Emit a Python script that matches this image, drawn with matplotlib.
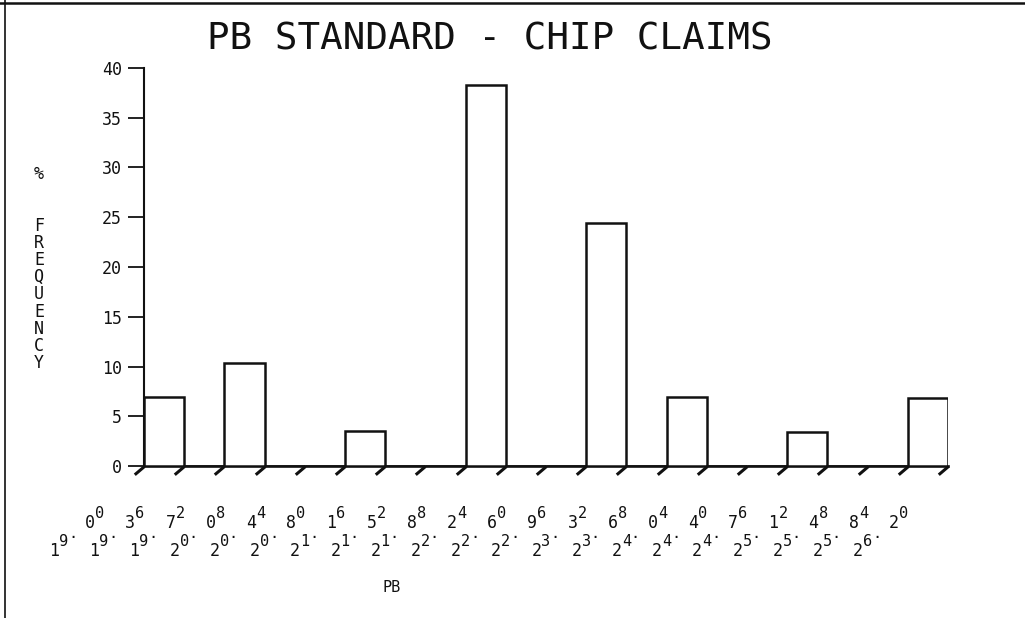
import matplotlib
matplotlib.use('Agg')
import matplotlib.pyplot as plt
import matplotlib.transforms as mtransforms
from matplotlib.path import Path
from matplotlib.lines import Line2D

# bin edges along PB axis and their printed labels
edges = [19.00, 19.36, 19.72, 20.08, 20.44, 20.80, 21.16, 21.52, 21.88, 22.24,
         22.60, 22.96, 23.32, 23.68, 24.04, 24.40, 24.76, 25.12, 25.48, 25.84, 26.20]
tick_labels = ["19.00", "19.36", "19.72", "20.08", "20.44", "20.80", "21.16",
               "21.52", "21.88", "22.24", "22.60", "22.96", "23.32", "23.68",
               "24.04", "24.40", "24.76", "25.12", "25.48", "25.84", "26.20"]
# % frequency in each bin (20 bins)
pct = [6.9, 0, 10.4, 0, 0, 3.5, 0, 0, 38.3, 0,
       0, 24.4, 0, 6.9, 0, 0, 3.4, 0, 0, 6.8]
y_ticks = [0, 5, 10, 15, 20, 25, 30, 35, 40]

title = "PB STANDARD - CHIP CLAIMS"
ylabel = "%  FREQUENCY"
xlabel = "PB"

MONO = "DejaVu Sans Mono"
INK = "#111111"
W, H = 1025, 618

# plotter-style placement of the 5 label characters (pixel offsets from tick, size)
char_dx = [-95, -85, -76, -59, -49]
char_dy = [-90, -80, -72, -62, -52]
char_fs = [12, 11, 11, 12, 11]

fig = plt.figure(figsize=(W / 100, H / 100), dpi=100)
fig.patch.set_facecolor("white")
ax = fig.add_axes([144 / W, (H - 466) / H, (948 - 144) / W, (466 - 68) / H])

widths = [edges[i + 1] - edges[i] for i in range(len(pct))]
ax.bar(edges[:-1], pct, width=widths, align="edge", color="white",
       edgecolor=INK, linewidth=1.8, zorder=3)

ax.set_xlim(edges[0], edges[-1])
ax.set_ylim(0, 40)
ax.set_yticks(y_ticks)
ax.set_yticklabels([str(v) for v in y_ticks], fontsize=12, family=MONO, color=INK)
ax.tick_params(axis="y", direction="out", length=11.5, width=1.3, pad=4.5, colors=INK)
ax.set_xticks([])

for s in ["top", "right"]:
    ax.spines[s].set_visible(False)
ax.spines["left"].set_linewidth(1.5)
ax.spines["bottom"].set_linewidth(1.9)
ax.spines["left"].set_color(INK)
ax.spines["bottom"].set_color(INK)

# slanted plotter tick marks under the x axis
slant = Path([(0, 0), (-1.0, -0.85)], [Path.MOVETO, Path.LINETO])
ax.plot(edges, [0] * len(edges), ls="none", marker=slant, markersize=14,
        mec=INK, mew=2.2, clip_on=False, zorder=4)

# x tick labels: upright characters stepped up along a diagonal
for x, lab in zip(edges, tick_labels):
    for k, ch in enumerate(lab):
        tr = mtransforms.offset_copy(ax.transData, fig=fig,
                                     x=char_dx[k], y=char_dy[k], units="dots")
        ax.text(x, 0, ch, transform=tr, ha="left", va="baseline",
                fontsize=char_fs[k], family=MONO, color=INK, clip_on=False)

# y label: letters stacked vertically
for k, ch in enumerate(ylabel):
    if ch == " ":
        continue
    fig.text(39 / W, 1 - (174 + 17.2 * k) / H, ch, ha="center", va="center",
             fontsize=12, family=MONO, color=INK)

fig.text(392 / W, 1 - 587 / H, xlabel, ha="center", va="center",
         fontsize=11, family=MONO, color=INK)
fig.text(490 / W, 1 - 40 / H, title, ha="center", va="center",
         fontsize=27, family=MONO, color=INK)

# page border (top and left edges of the printout)
fig.add_artist(Line2D([0, 1], [1 - 3 / H, 1 - 3 / H], color=INK, lw=1.8))
fig.add_artist(Line2D([5 / W, 5 / W], [0, 1], color=INK, lw=1.2))

fig.savefig("out.png", dpi=100)
plt.close(fig)
